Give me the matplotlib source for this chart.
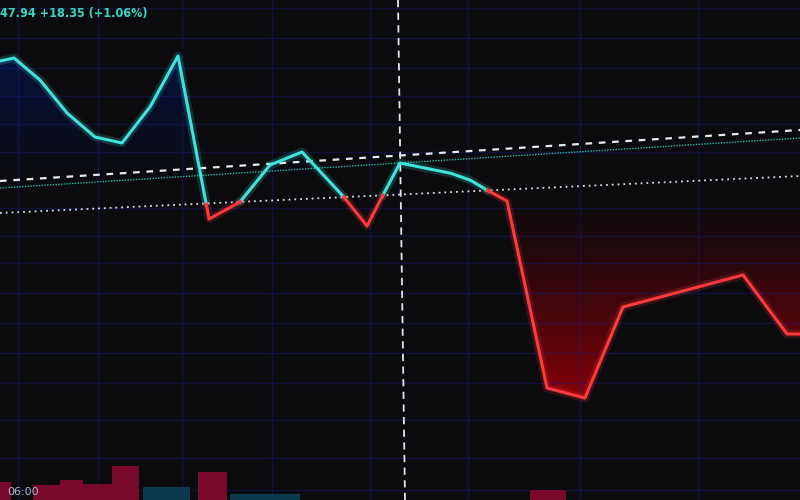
import numpy as np
import matplotlib
matplotlib.use('Agg')
import matplotlib.pyplot as plt

# price line (x = time position, y = screen height, 0 at top)
price_x = [0, 14, 40, 67, 95, 122, 150, 178, 206, 209, 240, 270, 302, 343, 367, 383,
           400, 450, 470, 485, 507, 547, 585, 623, 743, 787, 800]
price_y = [61, 58, 80, 113, 137, 143, 107, 56, 203, 219, 202, 165, 152, 196, 226, 195,
           163, 173, 180, 189, 201, 388, 398, 307, 275, 334, 334]

# reference levels (two end points each, tilted by the photo perspective)
base_x = [0, 800]
base_y = [213, 176]          # white dotted, previous close
last_y = [181, 130]          # white dashed, last price
avg_y = [188, 138]           # teal dotted
cross_x = [398, 405]         # vertical crosshair, top / bottom
cross_y = [0, 500]

# volume bars at the bottom
vol_x = [5, 46, 71, 97, 125, 166, 212, 265, 548]
vol_w = [12, 27, 23, 29, 27, 47, 29, 70, 36]
vol_h = [18, 15, 20, 16, 34, 13, 28, 6, 10]
vol_up = [False, False, False, False, False, True, False, True, False]

grid_x = [18, 98, 182, 272, 370, 468, 580, 698]
grid_y = [8, 38, 68, 96, 124, 152, 208, 236, 263, 293, 323, 353, 383, 420, 458, 490]

BG = '#0b0b0d'
CYAN = '#3fe3d9'
RED = '#ff3a3f'

fig = plt.figure(figsize=(8, 5), dpi=100, facecolor=BG)
ax = fig.add_axes([0, 0, 1, 1], facecolor=BG)
ax.set_xlim(0, 800)
ax.set_ylim(500, 0)

# grid
ax.set_xticks(grid_x)
ax.set_yticks(grid_y)
ax.set_axisbelow(False)
ax.grid(True, color='#16239a', lw=1.0, alpha=0.35)
ax.tick_params(length=0, labelbottom=False, labelleft=False)
for s in ax.spines.values():
    s.set_visible(False)

# dense version of the line to split it at the baseline
xx = np.linspace(0, 800, 3201)
pp = np.interp(xx, price_x, price_y)
bb = np.interp(xx, base_x, base_y)

# gradient fills, clipped to the area between line and baseline
top_poly = np.column_stack([np.r_[xx, xx[::-1]], np.r_[np.minimum(pp, bb), bb[::-1]]])
bot_poly = np.column_stack([np.r_[xx, xx[::-1]], np.r_[np.maximum(pp, bb), bb[::-1]]])

grad = np.linspace(0, 1, 256)[:, None]
blue_img = np.zeros((256, 1, 4))
blue_img[..., 0] = 0.03
blue_img[..., 1] = 0.09
blue_img[..., 2] = 0.34
blue_img[..., 3] = np.clip(1 - (grad * 500 - 50) / 130, 0, 1) * 0.7
im1 = ax.imshow(blue_img, extent=[0, 800, 500, 0], aspect='auto', zorder=1,
                interpolation='bilinear')
p1 = plt.Polygon(top_poly, closed=True, transform=ax.transData)
im1.set_clip_path(p1)

red_img = np.zeros((256, 1, 4))
red_img[..., 0] = 0.58
red_img[..., 1] = 0.0
red_img[..., 2] = 0.04
red_img[..., 3] = np.clip((grad * 500 - 195) / 200, 0, 1) ** 1.3 * 0.9
im2 = ax.imshow(red_img, extent=[0, 800, 500, 0], aspect='auto', zorder=1,
                interpolation='bilinear')
p2 = plt.Polygon(bot_poly, closed=True, transform=ax.transData)
im2.set_clip_path(p2)
ax.set_xlim(0, 800)
ax.set_ylim(500, 0)

# reference lines
ax.plot(base_x, base_y, color='#d8dde6', lw=1.3, ls=(0, (1, 2.2)), zorder=4)
ax.plot(base_x, avg_y, color='#27b9a6', lw=1.0, ls=(0, (1, 1)), zorder=4)
ax.plot(base_x, last_y, color='#e6e8ee', lw=1.6, ls=(0, (3, 3)), zorder=4)
ax.plot(cross_x, cross_y, color='#dfe3ea', lw=1.3, ls=(0, (4, 3)), zorder=4)

# price line: cyan above baseline, red below
above = np.ma.masked_where(pp > bb + 0.3, pp)
below = np.ma.masked_where(pp < bb - 0.3, pp)
ax.plot(xx, above, color=CYAN, lw=6, alpha=0.18, zorder=5, solid_capstyle='round')
ax.plot(xx, above, color=CYAN, lw=2.2, zorder=6)
ax.plot(xx, below, color=RED, lw=6, alpha=0.18, zorder=5, solid_capstyle='round')
ax.plot(xx, below, color=RED, lw=2.2, zorder=6)

# volume
vol_col = ['#0c3a4c' if u else '#7a0a2c' for u in vol_up]
ax.bar(vol_x, vol_h, width=vol_w, bottom=[500 - h for h in vol_h], color=vol_col, zorder=3)

# labels
ax.text(0, 14, '47.94 +18.35 (+1.06%)', color='#36d6c6', fontsize=9, fontweight='bold',
        family='DejaVu Sans', fontstretch='condensed', va='center', ha='left', zorder=7)
ax.text(7, 492, '06:00', color='#a6bccb', fontsize=8, va='center', ha='left', zorder=7)

plt.savefig('out.png', dpi=100, facecolor=BG)
